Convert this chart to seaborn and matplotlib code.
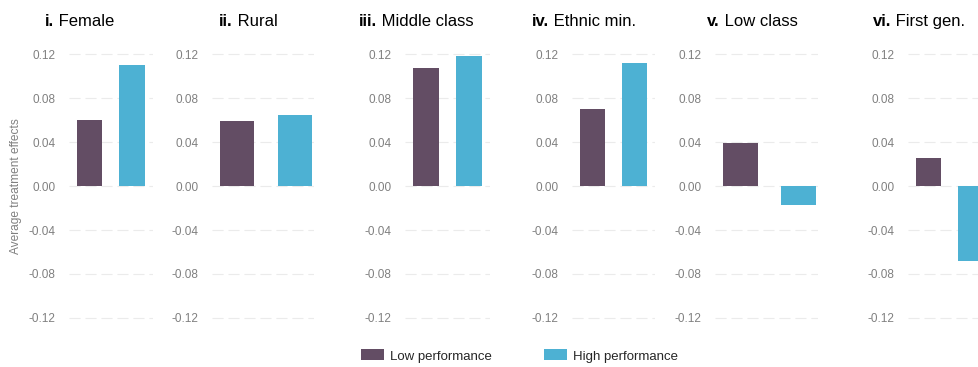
import matplotlib
matplotlib.use("Agg")
import matplotlib.pyplot as plt
from matplotlib.patches import Patch
import pandas as pd
import seaborn as sns

# ---- data -------------------------------------------------------------
numerals = ["i.", "ii.", "iii.", "iv.", "v.", "vi."]
subgroups = ["Female", "Rural", "Middle class", "Ethnic min.", "Low class", "First gen."]
groups = ["Low performance", "High performance"]
low_perf = [0.060, 0.059, 0.108, 0.070, 0.039, 0.026]
high_perf = [0.110, 0.065, 0.119, 0.112, -0.017, -0.068]
y_ticks = [-0.12, -0.08, -0.04, 0.00, 0.04, 0.08, 0.12]
y_tick_labels = ["-0.12", "-0.08", "-0.04", "0.00", "0.04", "0.08", "0.12"]
y_title = "Average treatment effects"

colors = {"Low performance": "#634D64", "High performance": "#4DB1D3"}

# ---- style ------------------------------------------------------------
sns.set_theme(style="white")
plt.rcParams["font.family"] = ["Liberation Sans", "DejaVu Sans"]
plt.rcParams["lines.scale_dashes"] = False

W, H = 979, 367
fig = plt.figure(figsize=(W / 100, H / 100), dpi=100)

# panel geometry in pixels: (left edge, distance between bar centres, x-limits)
narrow = (-0.48, 1.49)
wide = (-0.43, 1.335)
panels = [
    (69, 42.5, narrow),
    (212, 58.0, wide),
    (405, 43.0, narrow),
    (572, 42.0, narrow),
    (715, 58.5, wide),
    (908, 42.5, narrow),
]
title_left = [45, 219, 359, 532, 707, 873]

ylo, yhi = -0.125, 0.125
ax_top_px, ax_bot_px = 49.0, 323.3
bottom = 1 - ax_bot_px / H
height = (ax_bot_px - ax_top_px) / H

tick_grey = "#808080"

for i, (left_px, unit, (xlo, xhi)) in enumerate(panels):
    width_px = unit * (xhi - xlo)
    ax = fig.add_axes([left_px / W, bottom, width_px / W, height])
    df = pd.DataFrame({"group": groups, "value": [low_perf[i], high_perf[i]]})
    sns.barplot(data=df, x="group", y="value", hue="group", order=groups,
                hue_order=groups, palette=colors, saturation=1, width=0.6,
                errorbar=None, legend=False, ax=ax, linewidth=0, zorder=3)
    ax.set_xlim(xlo, xhi)
    ax.set_ylim(ylo, yhi)
    ax.set_yticks(y_ticks)
    ax.set_yticklabels(y_tick_labels)
    ax.set_xticks([])
    ax.set_xlabel("")
    ax.set_ylabel("")
    for s in ax.spines.values():
        s.set_visible(False)
    ax.tick_params(axis="y", length=0, pad=9.5, labelsize=8.5, labelcolor=tick_grey)
    ax.yaxis.grid(True, color="#EBEBEB", linewidth=0.8, linestyle=(0, (8, 3.5)), zorder=0)
    ax.set_axisbelow(True)

    # panel heading: bold numeral followed by regular subgroup name
    t1 = fig.text(title_left[i] / W, 1 - 25.7 / H, numerals[i], fontsize=12,
                  fontweight="bold", ha="left", va="baseline", color="black")
    ax.annotate(" " + subgroups[i], xy=(1, 0), xycoords=t1, fontsize=12,
                ha="left", va="bottom", color="black", annotation_clip=False)

fig.text(16 / W, 1 - 186.5 / H, y_title, rotation=90, ha="center", va="center",
         fontsize=8.6, color=tick_grey)

handles = [Patch(facecolor=colors[g], edgecolor="none") for g in groups]
fig.legend(handles, groups, loc="center", bbox_to_anchor=(519.5 / W, 1 - 356 / H),
           ncol=2, frameon=False, fontsize=9.5, handlelength=1.8, handleheight=0.9,
           handletextpad=0.45, columnspacing=3.9)

fig.savefig("out.png", dpi=100)
